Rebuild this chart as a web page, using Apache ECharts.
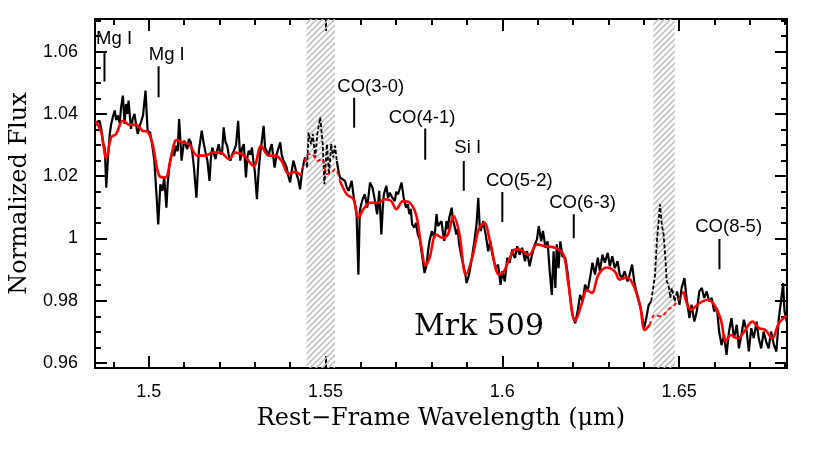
<!DOCTYPE html>
<html><head><meta charset="utf-8">
<script src="https://cdn.jsdelivr.net/npm/echarts@6/dist/echarts.min.js"></script>
<style>html,body{margin:0;padding:0;background:#fff}#c{width:830px;height:449px}</style>
</head><body><div id="c"></div>
<script>
// Observed spectrum (black)
const obsWl = [
1.4849,1.4852,1.4861,1.4866,1.4871,1.4876,1.4880,1.4885,1.4890,1.4894,
1.4899,1.4904,1.4908,1.4913,1.4918,1.4922,1.4927,1.4932,1.4936,1.4940,
1.4943,1.4950,1.4955,1.4960,1.4965,1.4969,1.4974,1.4978,1.4984,1.4991,
1.4997,1.5004,1.5010,1.5016,1.5022,1.5027,1.5033,1.5039,1.5044,1.5050,
1.5054,1.5058,1.5063,1.5067,1.5072,1.5077,1.5082,1.5086,1.5093,1.5100,
1.5105,1.5109,1.5114,1.5119,1.5124,1.5128,1.5135,1.5142,1.5150,1.5156,
1.5161,1.5166,1.5172,1.5176,1.5180,1.5185,1.5189,1.5194,1.5198,1.5203,
1.5208,1.5212,1.5217,1.5222,1.5226,1.5231,1.5236,1.5241,1.5247,1.5253,
1.5259,1.5264,1.5269,1.5275,1.5279,1.5283,1.5288,1.5292,1.5296,1.5300,
1.5306,1.5311,1.5316,1.5320,1.5325,1.5329,1.5334,1.5339,1.5344,1.5348,
1.5352,1.5356,1.5362,1.5367,1.5372,1.5376,1.5381,1.5386,1.5390,1.5395,
1.5400,1.5405,1.5409,1.5414,1.5418,1.5423,1.5428,1.5434,1.5438,1.5442,
1.5448,1.5452,1.5459,1.5464,1.5471,1.5477,1.5485,1.5492,1.5497,1.5504,
1.5510,1.5516,1.5522,1.5527,
1.5532,1.5537,1.5541,1.5549,1.5555,1.5560,1.5565,1.5570,1.5574,1.5580,
1.5585,1.5588,1.5593,1.5597,1.5601,1.5605,1.5611,1.5618,1.5622,1.5626,
1.5633,1.5640,1.5646,1.5652,1.5658,1.5662,1.5665,1.5672,1.5677,1.5682,
1.5689,1.5696,1.5700,1.5705,1.5710,1.5715,1.5721,1.5728,1.5733,1.5737,
1.5741,1.5745,1.5751,1.5756,1.5761,1.5766,1.5770,1.5775,1.5780,1.5786,
1.5790,1.5794,1.5801,1.5808,1.5814,1.5818,1.5822,1.5828,1.5832,1.5836,
1.5842,1.5846,1.5850,1.5857,1.5860,1.5864,1.5870,1.5874,1.5878,1.5885,
1.5892,1.5896,1.5899,1.5906,1.5910,1.5914,1.5921,1.5927,1.5932,1.5936,
1.5939,1.5946,1.5950,1.5953,1.5960,1.5966,1.5970,1.5974,1.5981,1.5988,
1.5995,
1.6000,1.6007,1.6014,1.6021,1.6028,1.6032,1.6036,1.6042,1.6049,1.6056,
1.6060,1.6064,1.6070,1.6077,1.6084,1.6092,1.6098,1.6103,1.6110,1.6115,
1.6122,1.6128,1.6134,1.6140,1.6145,1.6150,1.6154,1.6159,1.6164,1.6170,
1.6178,1.6184,1.6192,1.6198,1.6206,1.6213,1.6220,1.6227,1.6234,1.6241,
1.6248,1.6255,1.6262,1.6270,1.6276,1.6283,1.6290,1.6298,1.6304,1.6311,
1.6318,1.6326,1.6332,1.6339,1.6346,1.6354,1.6360,1.6367,1.6373,1.6379,
1.6386,1.6393,1.6401,1.6407,1.6414,1.6421,
1.6428,1.6432,1.6437,1.6442,1.6446,1.6451,1.6456,1.6461,1.6465,1.6470,
1.6475,1.6479,1.6484,1.6487,
1.6494,1.6501,1.6507,1.6515,1.6521,1.6529,1.6535,1.6543,1.6550,1.6557,
1.6564,1.6571,1.6578,1.6585,1.6592,1.6599,1.6607,1.6613,1.6620,1.6627,
1.6634,1.6641,1.6648,1.6655,1.6663,1.6669,1.6676,1.6683,1.6691,1.6697,
1.6704,1.6711,1.6719,1.6725,1.6732,1.6739,1.6746,1.6753,1.6760,1.6768,
1.6775,1.6782,1.6788,1.6794,1.6798,1.6804
];
const obsFlux = [
1.0362,1.0373,1.0378,1.0352,1.0303,1.0290,1.0163,1.0260,1.0335,1.0368,
1.0392,1.0411,1.0380,1.0395,1.0370,1.0422,1.0459,1.0368,1.0432,1.0400,
1.0443,1.0352,1.0385,1.0400,1.0360,1.0336,1.0360,1.0373,1.0395,1.0475,
1.0346,1.0341,1.0300,1.0250,1.0142,1.0045,1.0174,1.0153,1.0196,1.0099,
1.0180,1.0228,1.0260,1.0282,1.0265,1.0298,1.0280,1.0384,1.0250,1.0314,
1.0300,1.0287,1.0320,1.0309,1.0270,1.0228,1.0131,1.0282,1.0346,1.0303,
1.0275,1.0250,1.0185,1.0260,1.0292,1.0270,1.0255,1.0285,1.0303,1.0270,
1.0282,1.0357,1.0310,1.0298,1.0270,1.0250,1.0270,1.0282,1.0300,1.0378,
1.0250,1.0290,1.0303,1.0196,1.0260,1.0282,1.0270,1.0292,1.0250,1.0217,
1.0126,1.0217,1.0280,1.0314,1.0362,1.0292,1.0280,1.0266,1.0290,1.0303,
1.0265,1.0228,1.0271,1.0290,1.0309,1.0270,1.0250,1.0240,1.0228,1.0200,
1.0180,1.0220,1.0250,1.0230,1.0207,1.0190,1.0158,1.0217,1.0240,1.0260,
1.0228,1.0341,1.0303,1.0336,1.0260,1.0336,1.0389,1.0303,1.0174,1.0303,
1.0206,1.0303,1.0260,1.0298,
1.0249,1.0215,1.0196,1.0190,1.0185,1.0165,1.0153,1.0170,1.0185,1.0131,
1.0100,1.0072,0.9884,1.0088,1.0110,1.0126,1.0142,1.0099,1.0140,1.0180,
1.0163,1.0120,1.0078,1.0153,1.0013,1.0100,1.0142,1.0169,1.0130,1.0147,
1.0131,1.0120,1.0150,1.0142,1.0160,1.0180,1.0131,1.0099,1.0110,1.0078,
1.0095,1.0045,1.0035,1.0050,1.0013,1.0000,0.9970,0.9930,0.9889,0.9916,
0.9960,0.9992,1.0024,1.0002,1.0078,1.0040,1.0035,1.0056,1.0020,0.9992,
1.0056,1.0030,1.0067,1.0099,1.0060,1.0045,1.0013,1.0030,0.9981,0.9938,
0.9905,0.9880,0.9857,0.9884,0.9910,0.9938,0.9992,1.0045,1.0131,1.0040,
1.0024,1.0056,1.0030,1.0013,0.9959,0.9992,0.9960,0.9938,0.9905,0.9916,
0.9851,
0.9895,0.9862,0.9938,0.9922,0.9965,0.9945,0.9938,0.9975,0.9948,0.9970,
0.9950,0.9927,0.9959,0.9911,0.9948,0.9981,0.9997,1.0040,0.9991,1.0024,
0.9970,0.9991,0.9895,0.9819,0.9959,0.9841,0.9981,0.9905,0.9991,0.9943,
0.9938,0.9895,0.9809,0.9755,0.9728,0.9766,0.9819,0.9798,0.9852,0.9830,
0.9873,0.9922,0.9884,0.9938,0.9895,0.9948,0.9922,0.9954,0.9911,0.9943,
0.9905,0.9927,0.9884,0.9873,0.9895,0.9862,0.9884,0.9916,0.9862,0.9830,
0.9798,0.9766,0.9712,0.9744,0.9787,0.9798,
0.9852,0.9884,0.9991,1.0056,1.0110,1.0045,1.0013,0.9938,0.9862,0.9852,
0.9809,0.9841,0.9819,0.9798,
0.9830,0.9787,0.9841,0.9873,0.9809,0.9744,0.9787,0.9733,0.9766,0.9830,
0.9841,0.9809,0.9830,0.9798,0.9809,0.9766,0.9776,0.9701,0.9658,0.9690,
0.9626,0.9701,0.9744,0.9680,0.9723,0.9647,0.9690,0.9739,0.9701,0.9637,
0.9712,0.9680,0.9733,0.9680,0.9647,0.9701,0.9669,0.9647,0.9701,0.9658,
0.9637,0.9744,0.9798,0.9857,0.9766,0.9733
];
// Template fit (red)
const modelWl = [
1.4849,1.4852,1.4866,1.4880,1.4894,1.4908,1.4927,1.4946,1.4964,1.4983,
1.4997,1.5011,1.5030,1.5047,1.5063,1.5079,1.5096,1.5114,1.5138,1.5161,
1.5180,1.5203,1.5227,1.5245,1.5269,1.5297,1.5318,1.5339,1.5358,1.5376,
1.5395,1.5414,1.5431,1.5447,1.5462,1.5476,1.5490,1.5504,1.5518,1.5527,
1.5541,1.5560,1.5579,1.5593,1.5607,1.5626,1.5649,1.5668,1.5686,1.5700,
1.5719,1.5738,1.5756,1.5770,1.5783,1.5794,1.5813,1.5831,1.5846,1.5862,
1.5878,1.5897,1.5916,1.5933,1.5949,1.5967,1.5991,1.6005,1.6019,1.6037,
1.6056,1.6075,1.6098,1.6122,1.6150,1.6173,1.6187,1.6206,1.6225,1.6239,
1.6253,1.6272,1.6295,1.6318,1.6332,1.6351,1.6370,1.6389,1.6403,1.6417,
1.6431,1.6449,1.6468,1.6487,1.6513,1.6534,1.6557,1.6581,1.6599,1.6618,
1.6632,1.6646,1.6665,1.6684,1.6707,1.6726,1.6744,1.6763,1.6782,1.6804
];
const modelFlux = [
1.0375,1.0373,1.0341,1.0258,1.0325,1.0336,1.0378,1.0365,1.0365,1.0346,
1.0343,1.0303,1.0201,1.0196,1.0260,1.0316,1.0308,1.0303,1.0266,1.0266,
1.0276,1.0276,1.0255,1.0276,1.0266,1.0233,1.0298,1.0266,1.0266,1.0249,
1.0208,1.0214,1.0201,1.0266,1.0271,1.0249,1.0255,1.0207,1.0212,1.0223,
1.0185,1.0142,1.0126,1.0066,1.0094,1.0115,1.0115,1.0126,1.0120,1.0094,
1.0120,1.0115,1.0077,0.9981,0.9914,0.9937,1.0013,1.0002,1.0013,1.0072,
1.0018,0.9884,0.9943,1.0029,1.0050,0.9981,0.9884,0.9895,0.9932,0.9965,
0.9961,0.9946,0.9981,0.9975,0.9970,0.9948,0.9852,0.9735,0.9792,0.9835,
0.9825,0.9884,0.9907,0.9894,0.9868,0.9875,0.9852,0.9787,0.9706,0.9723,
0.9755,0.9749,0.9771,0.9787,0.9830,0.9771,0.9792,0.9803,0.9787,0.9739,
0.9669,0.9690,0.9679,0.9701,0.9733,0.9712,0.9706,0.9679,0.9728,0.9752
];
// Wavelength ranges affected by telluric residuals (hatched, drawn dashed)
const maskedRanges = [[1.5446, 1.5527], [1.6427, 1.6488]];
// Absorption features
const featureNames = ['Mg I', 'Mg I', 'CO(3-0)', 'CO(4-1)', 'Si I', 'CO(5-2)', 'CO(6-3)', 'CO(8-5)'];
const featureWl = [1.4875, 1.5028, 1.5581, 1.5782, 1.5891, 1.6000, 1.6202, 1.6614];
const objectName = 'Mrk 509';

// ---- annotation layout (in data units) ----
const featTickTop = [1.0602, 1.0553, 1.0452, 1.0353, 1.0249, 1.0149, 1.0078, 0.9998];
const featTickBot = [1.0504, 1.0454, 1.0356, 1.0253, 1.0153, 1.0053, 1.0001, 0.9901];
const featLabelX  = [1.4902, 1.5051, 1.5628, 1.5773, 1.5902, 1.6048, 1.6227, 1.6640];
const featLabelY  = [1.0641, 1.0591, 1.0488, 1.0388, 1.0291, 1.0186, 1.0115, 1.0036];
const objLabelPos = [1.5934, 0.9714];

const X_MIN = 1.4848, X_MAX = 1.6805, Y_MIN = 0.9584, Y_MAX = 1.0705;

function inMask(w){ return maskedRanges.some(r => w >= r[0] && w <= r[1]); }
function splitSeries(wl, fl){
  const solid = [], dashed = [];
  for (let i = 0; i < wl.length; i++){
    const m = inMask(wl[i]);
    solid.push(m ? [wl[i], '-'] : [wl[i], fl[i]]);
    const near = m || (i > 0 && inMask(wl[i-1])) || (i < wl.length-1 && inMask(wl[i+1]));
    dashed.push(near ? [wl[i], fl[i]] : [wl[i], '-']);
  }
  return {solid, dashed};
}
const obs = splitSeries(obsWl, obsFlux);
const mod = splitSeries(modelWl, modelFlux);

const featLines = [];
featureWl.forEach((w, i) => { featLines.push([w, featTickTop[i]], [w, featTickBot[i]], [w, '-']); });
const featLabels = featureNames.map((n, i) => ({name: n, value: [featLabelX[i], featLabelY[i]]}));

// hatch pattern
const pc = document.createElement('canvas'); pc.width = 6; pc.height = 6;
const pctx = pc.getContext('2d');
pctx.strokeStyle = '#bcbcbc'; pctx.lineWidth = 1.5;
pctx.beginPath();
pctx.moveTo(-1, 7); pctx.lineTo(7, -1);
pctx.moveTo(-1, 1); pctx.lineTo(1, -1);
pctx.moveTo(5, 7); pctx.lineTo(7, 5);
pctx.stroke();

const tickFont = {fontFamily: 'Liberation Sans, Arial, sans-serif', fontSize: 18, color: '#000'};
const axisCommon = {
  type: 'value', scale: true,
  splitNumber: 4,
  axisLine: {show: true, onZero: false, lineStyle: {color: '#000', width: 2}},
  axisTick: {show: true, inside: true, length: 12, lineStyle: {color: '#000', width: 2}},
  minorTick: {show: true, length: 6, lineStyle: {color: '#000', width: 2}},
  splitLine: {show: false}
};
function xAx(pos, labels){
  return Object.assign({}, axisCommon, {
    position: pos, min: X_MIN, max: X_MAX, minInterval: 0.05, maxInterval: 0.05,
    minorTick: Object.assign({}, axisCommon.minorTick, {splitNumber: 5}),
    axisLabel: Object.assign({show: labels, showMinLabel: false, showMaxLabel: false, margin: 15}, tickFont)
  });
}
function yAx(pos, labels){
  return Object.assign({}, axisCommon, {
    position: pos, min: Y_MIN, max: Y_MAX, minInterval: 0.02, maxInterval: 0.02,
    minorTick: Object.assign({}, axisCommon.minorTick, {splitNumber: 4}),
    axisLabel: Object.assign({show: labels, showMinLabel: false, showMaxLabel: false, margin: 17}, tickFont)
  });
}
const serifTitle = {fontFamily: 'DejaVu Serif', fontSize: 24, color: '#000'};
const xBottom = xAx('bottom', true);
Object.assign(xBottom, {name: 'Rest\u2212Frame Wavelength (\u03bcm)', nameLocation: 'middle', nameGap: 39,
  nameTextStyle: serifTitle});
const yLeft = yAx('left', true);
Object.assign(yLeft, {name: 'Normalized Flux', nameLocation: 'middle', nameGap: 59,
  nameTextStyle: serifTitle});

const labelBase = {show: true, position: 'inside', formatter: p => p.name, color: '#000',
  textBorderWidth: 0, opacity: 1};

const chart = echarts.init(document.getElementById('c'), null, {renderer: 'canvas'});
chart.setOption({
  animation: false,
  backgroundColor: '#fff',
  grid: {left: 90, right: 43, top: 19, bottom: 81, containLabel: false},
  xAxis: [xBottom, xAx('top', false)],
  yAxis: [yLeft, yAx('right', false)],
  series: [
    {type: 'line', name: 'mask', data: [], silent: true,
     markArea: {silent: true, itemStyle: {color: {image: pc, repeat: 'repeat'}},
       data: maskedRanges.map(r => [{xAxis: r[0]}, {xAxis: r[1]}])}},
    {type: 'line', name: 'obs', data: obs.solid, showSymbol: false, z: 3,
     lineStyle: {color: '#000', width: 2.2}, itemStyle: {color: '#000'}},
    {type: 'line', name: 'obsMasked', data: obs.dashed, showSymbol: false, z: 3,
     lineStyle: {color: '#000', width: 1.8, type: [4, 2]}},
    {type: 'line', name: 'model', data: mod.solid, showSymbol: false, smooth: 0.35, z: 4,
     lineStyle: {color: '#ff0000', width: 2.6}},
    {type: 'line', name: 'modelMasked', data: mod.dashed, showSymbol: false, smooth: 0.35, z: 4,
     lineStyle: {color: '#ff0000', width: 1.8, type: [4, 3]}},
    {type: 'line', name: 'features', data: featLines, showSymbol: false, z: 5,
     lineStyle: {color: '#000', width: 2}},
    {type: 'scatter', name: 'featureLabels', data: featLabels, symbolSize: 0, z: 6,
     itemStyle: {opacity: 1, color: '#000'},
     label: Object.assign({}, labelBase, {fontFamily: 'Liberation Sans, Arial, sans-serif', fontSize: 18.5})},
    {type: 'scatter', name: 'object', data: [{name: objectName, value: objLabelPos}], symbolSize: 0, z: 6,
     itemStyle: {opacity: 1, color: '#000'},
     label: Object.assign({}, labelBase, {fontFamily: 'DejaVu Serif', fontSize: 30})}
  ]
});
</script>
</body></html>
